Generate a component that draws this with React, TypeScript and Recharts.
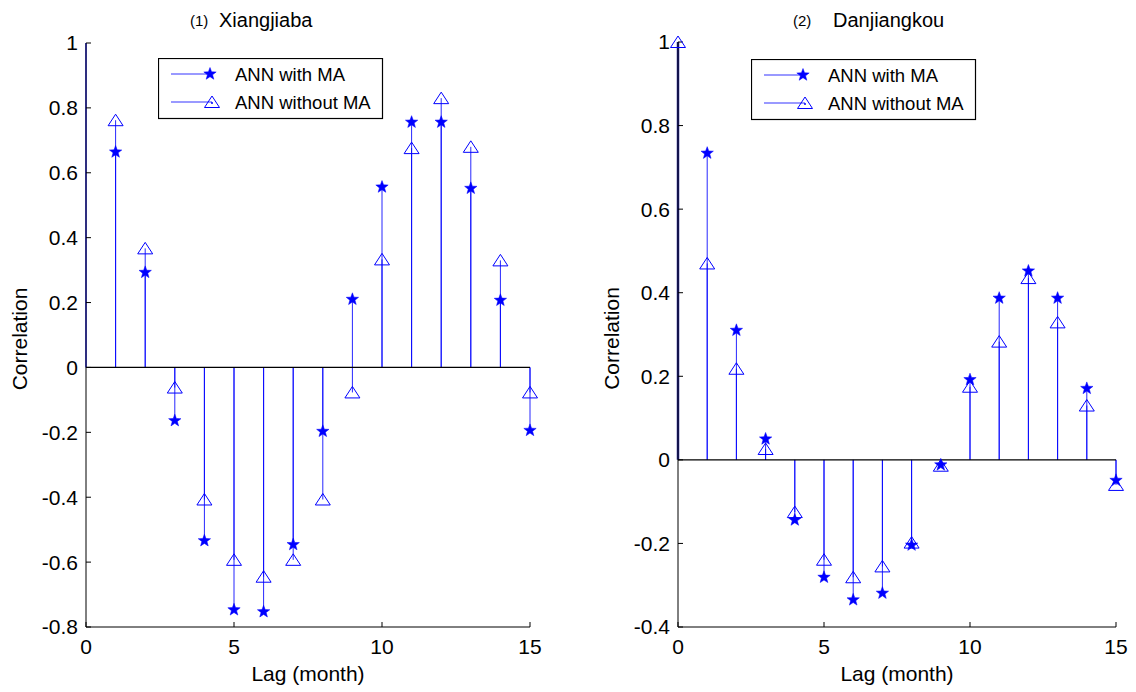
import React from 'react';
import { ComposedChart, Scatter, XAxis, YAxis, ReferenceLine } from 'recharts';

// ---------- data ----------
const lagsLeft = [1, 2, 3, 4, 5, 6, 7, 8, 9, 10, 11, 12, 13, 14, 15];
const leftWithMA = [0.664, 0.293, -0.164, -0.534, -0.747, -0.753, -0.546, -0.197, 0.21, 0.556, 0.756, 0.756, 0.552, 0.207, -0.194];
const leftWithoutMA = [0.762, 0.367, -0.062, -0.407, -0.593, -0.645, -0.593, -0.407, -0.077, 0.333, 0.676, 0.83, 0.68, 0.33, -0.077];
const leftLagZeroStem = 1;

const lagsRight = [0, 1, 2, 3, 4, 5, 6, 7, 8, 9, 10, 11, 12, 13, 14, 15];
const rightWithMA: (number | null)[] = [null, 0.734, 0.31, 0.05, -0.144, -0.281, -0.335, -0.319, -0.204, -0.012, 0.192, 0.387, 0.452, 0.387, 0.171, -0.049];
const rightWithoutMA = [1, 0.47, 0.218, 0.026, -0.125, -0.239, -0.281, -0.255, -0.198, -0.014, 0.175, 0.283, 0.435, 0.329, 0.13, -0.06];
const rightLagZeroStem = 1;

const xTicks = [0, 5, 10, 15];
const leftYTicks = [-0.8, -0.6, -0.4, -0.2, 0, 0.2, 0.4, 0.6, 0.8, 1];
const rightYTicks = [-0.4, -0.2, 0, 0.2, 0.4, 0.6, 0.8, 1];
const seriesNames = ['ANN with MA', 'ANN without MA'];

const BLUE = '#0000ff';
const FONT = '"Liberation Sans", Arial, Helvetica, sans-serif';

// ---------- markers ----------
const StarShape = (props: any) => {
  const { cx, cy } = props;
  if (cx == null || cy == null) return null;
  const pts: string[] = [];
  const R = 6.5;
  const r = 2.7;
  for (let i = 0; i < 10; i++) {
    const ang = -Math.PI / 2 + (i * Math.PI) / 5;
    const rad = i % 2 === 0 ? R : r;
    pts.push(`${cx + rad * Math.cos(ang)},${cy + rad * Math.sin(ang)}`);
  }
  return <polygon points={pts.join(' ')} fill={BLUE} stroke={BLUE} strokeWidth={0.5} />;
};

const TriangleShape = (props: any) => {
  const { cx, cy } = props;
  if (cx == null || cy == null) return null;
  return (
    <polygon
      points={`${cx},${cy - 6} ${cx + 7.5},${cy + 5.5} ${cx - 7.5},${cy + 5.5}`}
      fill="none"
      stroke={BLUE}
      strokeWidth={1}
    />
  );
};

const tickStyle = { fontSize: 21, fill: '#000', fontFamily: FONT };

const fmt = (v: number) => (v === 0 ? '0' : String(v));

const yLabel = (cx: number) => (props: any) => {
  const vb = props.viewBox || {};
  const cy = (vb.y ?? 0) + (vb.height ?? 0) / 2 + 4;
  return (
    <text
      x={cx}
      y={cy}
      transform={`rotate(-90, ${cx}, ${cy})`}
      textAnchor="middle"
      dominantBaseline="central"
      fontSize={21}
      fontFamily={FONT}
      fill="#000"
    >
      Correlation
    </text>
  );
};

type PanelProps = {
  left: number;
  width: number;
  top: number;
  rightMargin: number;
  lags: number[];
  withMA: (number | null)[];
  withoutMA: (number | null)[];
  zeroStem: number;
  zeroStemWidth: number;
  zeroStemColor: string;
  yTicks: number[];
  yDomain: [number, number];
  yLabelX: number;
};

const Panel = (p: PanelProps) => {
  const dataA = p.lags
    .map((lag, i) => ({ lag, value: p.withMA[i] }))
    .filter((d) => d.value != null);
  const dataB = p.lags
    .map((lag, i) => ({ lag, value: p.withoutMA[i] }))
    .filter((d) => d.value != null);
  const stems: { lag: number; v: number; w: number; c: string }[] = [];
  stems.push({ lag: 0, v: p.zeroStem, w: p.zeroStemWidth, c: p.zeroStemColor });
  [...dataB, ...dataA].forEach((d) => {
    if (d.lag !== 0) stems.push({ lag: d.lag, v: d.value as number, w: 1, c: BLUE });
  });
  return (
    <div style={{ position: 'absolute', left: p.left, top: 0 }}>
      <ComposedChart
        width={p.width}
        height={692}
        margin={{ top: p.top, right: p.rightMargin, bottom: 5, left: 0 }}
      >
        <XAxis
          xAxisId="b"
          dataKey="lag"
          type="number"
          domain={[0, 15]}
          ticks={xTicks}
          orientation="bottom"
          height={60}
          tickSize={-5}
          tickMargin={17}
          tick={tickStyle}
          stroke="#000"
          label={{
            value: 'Lag (month)',
            position: 'insideBottom',
            offset: 6,
            style: { fontSize: 21, fill: '#000', fontFamily: FONT },
          }}
        />
        <XAxis
          xAxisId="t"
          type="number"
          domain={[0, 15]}
          ticks={xTicks}
          orientation="top"
          height={0}
          tickSize={-5}
          tickFormatter={() => ''}
          stroke="#000"
        />
        <YAxis
          yAxisId="l"
          dataKey="value"
          type="number"
          domain={p.yDomain}
          ticks={p.yTicks}
          width={86}
          tickSize={-5}
          tickMargin={13}
          tick={tickStyle}
          tickFormatter={fmt}
          stroke="#000"
          interval={0}
          label={{ content: yLabel(p.yLabelX) } as any}
        />
        <YAxis
          yAxisId="r"
          type="number"
          orientation="right"
          domain={p.yDomain}
          ticks={p.yTicks}
          width={0}
          tickSize={-5}
          tickFormatter={() => ''}
          stroke="#000"
          interval={0}
        />
        {stems.map((s, i) => (
          <ReferenceLine
            key={`s${i}`}
            xAxisId="b"
            yAxisId="l"
            segment={[
              { x: s.lag, y: 0 },
              { x: s.lag, y: s.v },
            ]}
            stroke={s.c}
            strokeWidth={s.w}
            strokeOpacity={0.85}
            ifOverflow="visible"
          />
        ))}
        <ReferenceLine xAxisId="b" yAxisId="l" y={0} stroke="#000" strokeWidth={1.2} />
        <Scatter
          name={seriesNames[1]}
          xAxisId="b"
          yAxisId="l"
          data={dataB}
          shape={<TriangleShape />}
          isAnimationActive={false}
        />
        <Scatter
          name={seriesNames[0]}
          xAxisId="b"
          yAxisId="l"
          data={dataA}
          shape={<StarShape />}
          isAnimationActive={false}
        />
      </ComposedChart>
    </div>
  );
};

const LegendBox = ({ left, top }: { left: number; top: number }) => (
  <div style={{ position: 'absolute', left, top, width: 226, height: 62 }}>
    <svg width={226} height={62}>
      <rect x={0.5} y={0.5} width={224} height={60} fill="#fff" stroke="#000" strokeWidth={1.2} />
      <line x1={13} y1={16} x2={50} y2={16} stroke={BLUE} strokeWidth={1} strokeOpacity={0.8} />
      <StarShape cx={52} cy={16} />
      <text x={77} y={16} dominantBaseline="central" fontSize={18.5} fontFamily={FONT} fill="#000">
        {seriesNames[0]}
      </text>
      <line x1={13} y1={44} x2={54} y2={44} stroke={BLUE} strokeWidth={1} strokeOpacity={0.8} />
      <TriangleShape cx={54} cy={44} />
      <circle cx={54} cy={45} r={1} fill={BLUE} />
      <text x={77} y={44} dominantBaseline="central" fontSize={18.5} fontFamily={FONT} fill="#000">
        {seriesNames[1]}
      </text>
    </svg>
  </div>
);

const Titles = () => (
  <svg width={1136} height={40} style={{ position: 'absolute', left: 0, top: 0 }}>
    <text x={190} y={26} fontSize={15} fontFamily={FONT} fill="#000">(1)</text>
    <text x={219} y={27} fontSize={20} fontFamily={FONT} fill="#000">Xiangjiaba</text>
    <text x={793} y={26} fontSize={15} fontFamily={FONT} fill="#000">(2)</text>
    <text x={833} y={27} fontSize={20} fontFamily={FONT} fill="#000">Danjiangkou</text>
  </svg>
);

export default function App() {
  return (
    <div style={{ position: 'absolute', left: 0, top: 0, width: 1136, height: 692, background: '#fff', overflow: 'hidden' }}>
      <Titles />
      <Panel
        left={0}
        width={560}
        top={43}
        rightMargin={30}
        lags={lagsLeft}
        withMA={leftWithMA}
        withoutMA={leftWithoutMA}
        zeroStem={leftLagZeroStem}
        zeroStemWidth={1.5}
        zeroStemColor={BLUE}
        yTicks={leftYTicks}
        yDomain={[-0.8, 1]}
        yLabelX={19}
      />
      <Panel
        left={592}
        width={544}
        top={42}
        rightMargin={20}
        lags={lagsRight}
        withMA={rightWithMA}
        withoutMA={rightWithoutMA}
        zeroStem={rightLagZeroStem}
        zeroStemWidth={2.5}
        zeroStemColor="#00008b"
        yTicks={rightYTicks}
        yDomain={[-0.4, 1]}
        yLabelX={19}
      />
      <LegendBox left={158} top={58} />
      <LegendBox left={751} top={59} />
    </div>
  );
}
